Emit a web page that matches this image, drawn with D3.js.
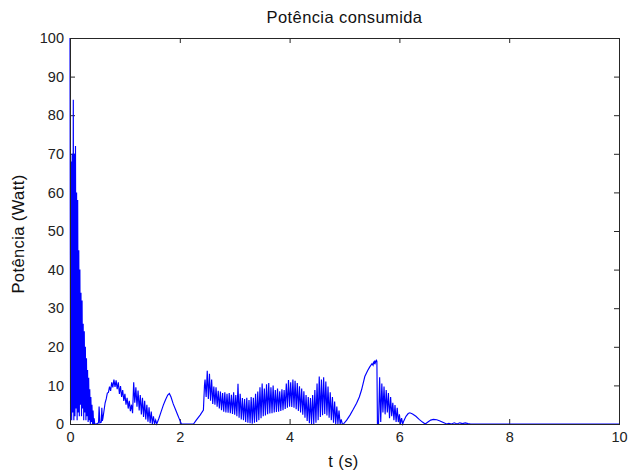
<!DOCTYPE html>
<html>
<head>
<meta charset="utf-8">
<script src="https://cdn.jsdelivr.net/npm/d3@7"></script>
<style>
  html, body { margin: 0; padding: 0; background: #fff; }
  svg { display: block; font-family: "Liberation Sans", Arial, sans-serif; }
</style>
</head>
<body>
<svg id="chart" width="629" height="473"></svg>
<script>
// ---- Data ----
const titleText = "Potência consumida";
const xLabelText = "t (s)";
const yLabelText = "Potência (Watt)";
const xTicks = [0, 2, 4, 6, 8, 10];
const yTicks = [0, 10, 20, 30, 40, 50, 60, 70, 80, 90, 100];

// start-up burst, samples every 0.01 s from t = 0
const startupT0 = 0, startupDt = 0.01;
const startupP = [100,2,68,1,70,3,84,1,70,2,72,4,60,1,58,3,45,2,40,5,34,2,32,4,26,1,24,3,20,1,17,2,14,0.5,12,1,9,0,7,0.5,5,0,3.5,0,1.5,0,0];

// small spikes after burst [t, P]
const gapPts = [[0.48,0],[0.52,0.3],[0.53,4.5],[0.545,0.3],[0.57,0.5],[0.58,4.2],[0.59,0.8]];

// first hump, samples every 0.02 s from t = 0.60
const hump1T0 = 0.60, hump1Dt = 0.02;
const hump1P = [1.5,3.5,5.5,6.5,8,8.2,9.7,8.6,10.8,9.5,11.5,9.6,11.3,9,10.8,7.8,9.8,7,8.8,6,7.8,5,6.8,4,6,3.3,5,2.8,10.8,5.5,9.5,4.5,8.7,3.5,7.5,2.5,6.8,1.8,6,1.2,5,0.6,4.3,0.2,3.2,0,2,0,1];

// smooth section [t, P]
const smoothPts1 = [[1.58,0],[1.62,1.5],[1.66,3.2],[1.70,4.9],[1.74,6.3],[1.78,7.5],[1.81,7.9],[1.84,7],[1.88,5.2],[1.92,3.8],[1.96,2.4],[2.00,1],[2.03,0],[2.25,0],[2.30,1],[2.37,2.3],[2.43,3.6],[2.45,10.1]];

// oscillating middle section, samples every 0.02 s from t = 2.46
const midT0 = 2.46, midDt = 0.02;
const midP = [11.5,7,13.8,6.5,13,6,11.5,5.2,9.7,5,9.5,4.5,8.6,4,8.4,3.6,8,3.2,8.2,3,7.8,2.9,8,2.8,7.6,2.6,8.2,2.4,7.5,2,10.4,1.6,7.8,1.2,6.7,1,6.5,0.5,6.8,0.3,6.2,0.2,7,0.1,6.8,0.3,7.8,0.5,8.4,1,9.5,1.5,10.5,2,9.2,2.2,10.3,2.5,10.6,2.7,9.5,2.8,10,3,8.8,3.1,9.2,3.2,8.5,3.4,9,3.6,8.8,3.9,10.5,4.2,11.4,4.5,10.8,4.4,11.5,4.2,11.2,3.8,10.6,3.4,9.8,3,9.2,2.4,8.5,1.6,7.5,0.8,7,0.2,6.7,0,7.5,0,8.8,0.3,10.5,1,12.3,1.8,11.5,2.3,12.1,2.6,11,2.2,9.7,1.6,8.2,1,7,0.3,5.8,0,4.5,0,3.5,0,1.2,0];

// second smooth hump [t, P]
const hump2Pts = [[4.98,0],[5.04,1],[5.10,2.3],[5.16,3.8],[5.22,5.4],[5.27,7],[5.31,8.8],[5.34,10.5],[5.37,12.3],[5.42,13.8],[5.46,14.8],[5.50,15.6],[5.52,15.2],[5.53,16.2],[5.54,15.5],[5.55,16.4],[5.56,15.8],[5.58,16.5],[5.59,16.3],[5.60,0]];

// decaying spikes, samples every 0.02 s from t = 5.62
const decayT0 = 5.62, decayDt = 0.02;
const decayP = [0,12.1,0.5,10.5,3,9.7,2.5,8.8,3,8,1.5,7,2,5.5,1,4.9,0.5,4.2,0.5,2.5,0,1.5,0];

// tail [t, P]
const tailPts = [[6.08,0.8],[6.12,2],[6.16,2.7],[6.19,2.9],[6.24,2.6],[6.30,2],[6.36,1.2],[6.42,0.5],[6.47,0],[6.52,0.5],[6.57,1],[6.62,1.2],[6.68,1.1],[6.74,0.8],[6.80,0.4],[6.86,0],[6.90,0.2],[6.95,0],[7.00,0.3],[7.05,0],[7.10,0.3],[7.15,0.1],[7.20,0.3],[7.25,0.1],[7.30,0],[10,0]];

// ---- Build the series ----
const sampled = (t0, dt, arr) => arr.map((p, i) => [t0 + i * dt, p]);
const series = [].concat(
  sampled(startupT0, startupDt, startupP),
  gapPts,
  sampled(hump1T0, hump1Dt, hump1P),
  smoothPts1,
  sampled(midT0, midDt, midP),
  hump2Pts,
  sampled(decayT0, decayDt, decayP),
  tailPts
);

// ---- Layout ----
const L = 70, R = 619, T = 38, B = 424;
const svg = d3.select("#chart");
const x = d3.scaleLinear().domain([0, 10]).range([L, R]);
const y = d3.scaleLinear().domain([0, 100]).range([B, T]);

const tickLen = 5;
const tickFont = "14.5px";
const axisColor = "#262626";

// bottom axis
const gB = svg.append("g").attr("transform", `translate(0,${B})`)
  .call(d3.axisBottom(x).tickValues(xTicks).tickSizeInner(-tickLen).tickSizeOuter(0).tickPadding(8).tickFormat(d3.format("d")));
// left axis
const gL = svg.append("g").attr("transform", `translate(${L},0)`)
  .call(d3.axisLeft(y).tickValues(yTicks).tickSizeInner(-tickLen).tickSizeOuter(0).tickPadding(6).tickFormat(d3.format("d")));
// top axis (ticks only)
const gT = svg.append("g").attr("transform", `translate(0,${T})`)
  .call(d3.axisTop(x).tickValues(xTicks).tickSizeInner(-tickLen).tickSizeOuter(0).tickFormat(""));
// right axis (ticks only)
const gR = svg.append("g").attr("transform", `translate(${R},0)`)
  .call(d3.axisRight(y).tickValues(yTicks).tickSizeInner(-tickLen).tickSizeOuter(0).tickFormat(""));

[gB, gL, gT, gR].forEach(g => {
  g.select(".domain").remove();
  g.selectAll(".tick line").attr("stroke", axisColor).attr("stroke-width", 1);
  g.selectAll("text").attr("fill", "#222").style("font-size", tickFont)
    .style("font-family", '"Liberation Sans", Arial, sans-serif');
});

// data line
const line = d3.line().x(d => x(d[0])).y(d => y(d[1]));
svg.append("path")
  .datum(series)
  .attr("fill", "none")
  .attr("stroke", "#0000ff")
  .attr("stroke-width", 1.15)
  .attr("d", line);

// frame
svg.append("rect")
  .attr("x", L + 0.5).attr("y", T + 0.5)
  .attr("width", R - L).attr("height", B - T)
  .attr("fill", "none").attr("stroke", axisColor).attr("stroke-width", 1);

// title
svg.append("text")
  .attr("x", (L + R) / 2).attr("y", 23)
  .attr("text-anchor", "middle")
  .attr("fill", "#111")
  .style("font-size", "16.5px")
  .style("letter-spacing", "0.4px")
  .text(titleText);

// x label
svg.append("text")
  .attr("x", (L + R) / 2 - 1).attr("y", 467)
  .attr("text-anchor", "middle")
  .attr("fill", "#111")
  .style("font-size", "16.5px")
  .style("letter-spacing", "0.4px")
  .text(xLabelText);

// y label
svg.append("text")
  .attr("transform", `translate(24,${(T + B) / 2 + 3}) rotate(-90)`)
  .attr("text-anchor", "middle")
  .attr("fill", "#111")
  .style("font-size", "16.5px")
  .style("letter-spacing", "0.4px")
  .text(yLabelText);
</script>
</body>
</html>
